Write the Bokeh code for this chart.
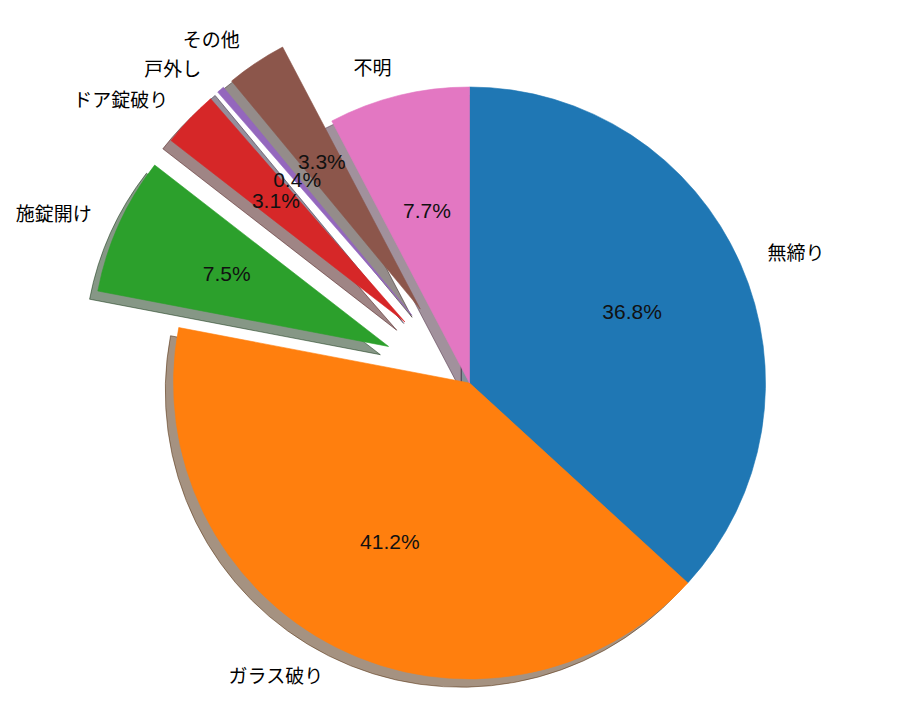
import numpy as np
from bokeh.plotting import figure
from bokeh.models import ColumnDataSource, Range1d
from bokeh.core.properties import value
from bokeh.embed import file_html
from bokeh.resources import INLINE

# ---- data ----
labels = ["無締り", "ガラス破り", "施錠開け", "ドア錠破り", "戸外し", "その他", "不明"]
shares = [36.8, 41.2, 7.5, 3.1, 0.4, 3.3, 7.7]
explode = [0.0, 0.0, 0.3, 0.3, 0.3, 0.3, 0.0]
colors = ["#1f77b4", "#ff7f0e", "#2ca02c", "#d62728", "#9467bd", "#8c564b", "#e377c2"]

# ---- layout ----
W, H = 892, 694
cx_px, cy_px = 469.0, 382.5     # pie centre in canvas pixels (from top-left)
scale = 296.0                   # pixels per radius unit
FONT = "Noto Sans CJK JP"
PCT_FONT = "Liberation Sans"

frac = np.array(shares, dtype=float) / sum(shares)
cum = np.concatenate([[0.0], np.cumsum(frac)[:-1]])
theta1 = np.deg2rad(90.0 - 360.0 * cum)            # clockwise from 12 o'clock
theta2 = theta1 - 2 * np.pi * frac
mid = (theta1 + theta2) / 2
ex = np.array(explode)
xc = ex * np.cos(mid)
yc = ex * np.sin(mid)

# matplotlib-like shadow
sh_off = 0.02 * 100 / 72
def shade(c):
    r, g, b = (int(c[i:i + 2], 16) for i in (1, 3, 5))
    return "#%02x%02x%02x" % (int(r * 0.3), int(g * 0.3), int(b * 0.3))
shadow_cols = [shade(c) for c in colors]

src = ColumnDataSource(dict(
    x=xc, y=yc, xs=xc - sh_off, ys=yc - sh_off,
    start=theta2, end=theta1, color=colors, scol=shadow_cols,
))

p = figure(width=W, height=H, output_backend="svg", toolbar_location=None,
           x_range=Range1d(-cx_px / scale, (W - cx_px) / scale),
           y_range=Range1d(-(H - cy_px) / scale, cy_px / scale),
           min_border=0)
p.axis.visible = False
p.grid.visible = False
p.outline_line_color = None
p.background_fill_color = "white"
p.border_fill_color = "white"

p.wedge(x="xs", y="ys", radius=1.0, start_angle="start", end_angle="end",
        direction="anticlock", fill_color="scol", fill_alpha=0.5,
        line_color="scol", line_alpha=0.5, line_width=1, source=src)
p.wedge(x="x", y="y", radius=1.0, start_angle="start", end_angle="end",
        direction="anticlock", fill_color="color", line_color="color",
        line_width=0.6, source=src)

# outer labels
lx = xc + 1.1 * np.cos(mid)
ly = yc + 1.1 * np.sin(mid)
for side, align in ((lx > 0, "left"), (lx <= 0, "right")):
    p.text(x=list(lx[side]), y=list(ly[side]), text=[labels[i] for i in np.where(side)[0]],
           text_align=align, text_baseline="middle", text_font=value(FONT),
           text_font_size="19px", text_color="black")

# percentage labels
px_ = xc + 0.6 * np.cos(mid)
py_ = yc + 0.6 * np.sin(mid)
pct = ["%1.1f%%" % (f * 100) for f in frac]
p.text(x=list(px_), y=list(py_), text=pct, text_align="center", text_baseline="middle",
       text_font=value(PCT_FONT), text_font_size="21px", text_color="#111111")

open("out.html", "w").write(file_html(p, INLINE))
